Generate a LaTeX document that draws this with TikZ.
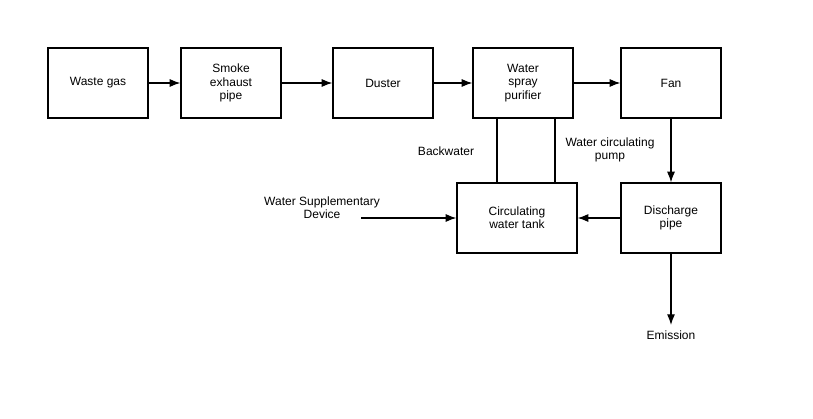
\documentclass[tikz,border=0pt]{standalone}
\usepackage{fontspec}
\setmainfont{Liberation Sans}
\usetikzlibrary{arrows.meta}
\begin{document}
\begin{tikzpicture}[x=0.75pt,y=-0.75pt,
  box/.style={draw,line width=0.9pt,minimum width=75pt,minimum height=52.5pt,align=center,font=\fontsize{9}{10}\selectfont,inner sep=1pt},
  lbl/.style={align=center,font=\fontsize{9}{10}\selectfont,inner sep=0pt},
  arr/.style={line width=0.9pt,-{Latex[length=8pt,width=6pt]}},
  ln/.style={line width=0.9pt}]
\useasboundingbox (0,0) rectangle (813,418);
\node[box] (wg) at (98,83) {Waste gas};
\node[box] (sp) at (231,83) {Smoke\\exhaust\\pipe};
\node[box] (du) at (383,83) {Duster};
\node[box] (ws) at (523,83) {Water\\spray\\purifier};
\node[box] (fan) at (671,83) {Fan};
\node[box,minimum width=90pt] (ct) at (517,218) {Circulating\\water tank};
\node[box] (dp) at (671,218) {Discharge\\pipe};
\node[lbl] (bw) at (446,151) {Backwater};
\node[lbl] (wcp) at (610,150) {Water circulating\\pump};
\node[lbl] (wsd) at (322,208) {Water Supplementary\\Device};
\node[lbl] (em) at (671,335) {Emission};
\coordinate (ws0) at (361,218);
\coordinate (em0) at (671,325);
\draw[arr] (wg) -- (sp);
\draw[arr] (sp) -- (du);
\draw[arr] (du) -- (ws);
\draw[arr] (ws) -- (fan);
\draw[arr] (fan) -- (dp);
\draw[arr] (dp) -- (ct);
\draw[arr] (ws0) -- (ct);
\draw[arr] (dp) -- (em0);
\draw[ln] (ws.south -| 497,0) -- (ct.north -| 497,0);
\draw[ln] (ws.south -| 555,0) -- (ct.north -| 555,0);
\end{tikzpicture}
\end{document}
